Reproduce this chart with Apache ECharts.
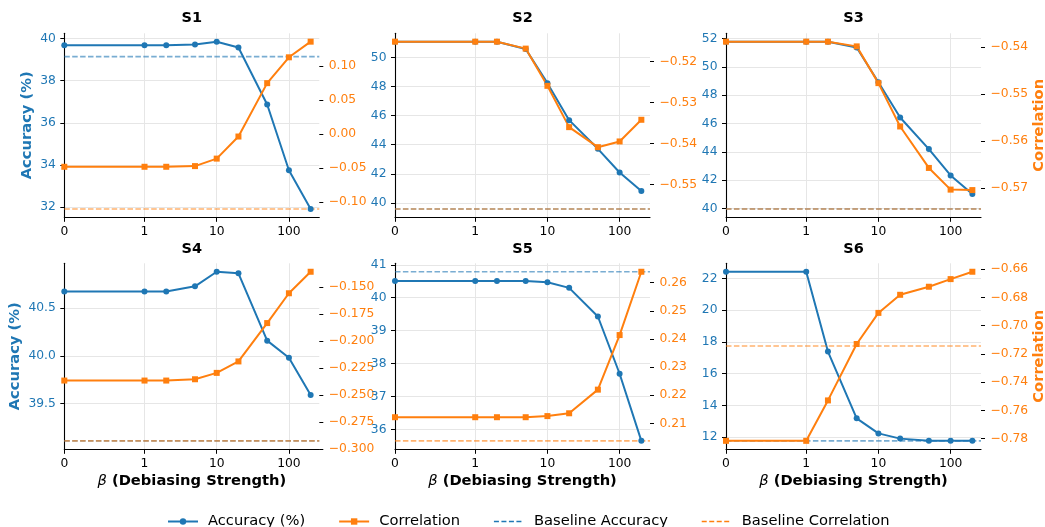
<!DOCTYPE html>
<html><head><meta charset="utf-8">
<script src="https://cdn.jsdelivr.net/npm/echarts@6/dist/echarts.min.js"></script>
<style>html,body{margin:0;padding:0;background:#fff}#c{width:1045px;height:527px}</style>
</head><body><div id="c"></div>
<script>
// ---------------- data ----------------
const betas = [0, 1, 2, 5, 10, 20, 50, 100, 200];
const xTickBetas = [0, 1, 10, 100];
const xTickLabels = ['0', '1', '10', '100'];
const panelNames = ['S1', 'S2', 'S3', 'S4', 'S5', 'S6'];

const accS1 = [39.69, 39.69, 39.69, 39.72, 39.86, 39.58, 36.87, 33.74, 31.90];
const corrS1 = [-0.048, -0.048, -0.048, -0.047, -0.036, -0.0035, 0.075, 0.113, 0.136];
const accS2 = [51.08, 51.08, 51.08, 50.58, 48.23, 45.69, 43.72, 42.09, 40.82];
const corrS2 = [-0.5151, -0.5151, -0.5151, -0.5168, -0.5259, -0.5360, -0.5409, -0.5395, -0.5342];
const accS3 = [51.78, 51.78, 51.78, 51.37, 48.92, 46.43, 44.20, 42.34, 41.03];
const corrS3 = [-0.5389, -0.5389, -0.5389, -0.5399, -0.5477, -0.5569, -0.5657, -0.5703, -0.5704];
const accS4 = [40.676, 40.676, 40.676, 40.73, 40.883, 40.866, 40.159, 39.98, 39.589];
const corrS4 = [-0.2367, -0.2367, -0.2367, -0.2355, -0.2296, -0.2190, -0.1835, -0.1559, -0.1360];
const accS5 = [40.51, 40.51, 40.51, 40.51, 40.47, 40.30, 39.43, 37.69, 35.65];
const corrS5 = [0.2122, 0.2122, 0.2122, 0.2122, 0.2126, 0.2136, 0.2220, 0.2414, 0.2639];
const accS6 = [22.42, 22.42, 17.39, 13.18, 12.23, 11.90, 11.77, 11.77, 11.77];
const corrS6 = [-0.7815, -0.7815, -0.7529, -0.7130, -0.6910, -0.6782, -0.6725, -0.6671, -0.6619];

const baseAcc = [39.15, 39.59, 39.98, 39.106, 40.79, 11.76];
const baseCorr = [-0.110, -0.556, -0.5744, -0.2925, 0.2038, -0.7144];

const accTicksS1 = [32, 34, 36, 38, 40];
const accTicksS2 = [40, 42, 44, 46, 48, 50];
const accTicksS3 = [40, 42, 44, 46, 48, 50, 52];
const accTicksS4 = [39.5, 40.0, 40.5];
const accTicksS5 = [36, 37, 38, 39, 40, 41];
const accTicksS6 = [12, 14, 16, 18, 20, 22];
const corrTicksS1 = [-0.10, -0.05, 0.00, 0.05, 0.10];
const corrTicksS2 = [-0.55, -0.54, -0.53, -0.52];
const corrTicksS3 = [-0.57, -0.56, -0.55, -0.54];
const corrTicksS4 = [-0.300, -0.275, -0.250, -0.225, -0.200, -0.175, -0.150];
const corrTicksS5 = [0.21, 0.22, 0.23, 0.24, 0.25, 0.26];
const corrTicksS6 = [-0.78, -0.76, -0.74, -0.72, -0.70, -0.68, -0.66];
const accDecimals = [0, 0, 0, 1, 0, 0];
const corrDecimals = [2, 2, 2, 3, 2, 2];

// ---------------- layout / style ----------------
const accList = [accS1, accS2, accS3, accS4, accS5, accS6];
const corrList = [corrS1, corrS2, corrS3, corrS4, corrS5, corrS6];
const accTickList = [accTicksS1, accTicksS2, accTicksS3, accTicksS4, accTicksS5, accTicksS6];
const corrTickList = [corrTicksS1, corrTicksS2, corrTicksS3, corrTicksS4, corrTicksS5, corrTicksS6];

const BLUE = '#1f77b4', ORANGE = '#ff7f0e';
const FONT = 'DejaVu Sans';
const colLeft = [64.3, 395, 726];
const rowTop = [33.3, 263.3];
const rowH = [184, 186];
const gridW = 255;
const X_MAX = 3.532;
const accNameGap = [30, 41.5];

function symlog(b) { return b <= 1 ? b / 0.9 : 1 / 0.9 + Math.log10(b); }
const xTickPos = xTickBetas.map(symlog);
function fmt(v, d) {
  if (Math.abs(v) < 1e-12) v = 0;
  return (v < 0 ? '\u2212' : '') + Math.abs(v).toFixed(d);
}
function range(arr) {
  const mn = Math.min(...arr), mx = Math.max(...arr);
  const m = (mx - mn) * 0.05;
  return [mn - m, mx + m];
}

const grids = [], xAxes = [], yAxes = [], series = [], titles = [];
for (let i = 0; i < 6; i++) {
  const r = Math.floor(i / 3), c = i % 3;
  grids.push({ left: colLeft[c], top: rowTop[r], width: gridW, height: rowH[r], outerBoundsMode: 'none', containLabel: false });
  titles.push({
    text: panelNames[i], left: colLeft[c] + gridW / 2, top: rowTop[r] - 23 + r * 1.5, textAlign: 'center', padding: 0,
    textStyle: { fontFamily: FONT, fontWeight: 'bold', fontSize: 14.5, color: '#000' }
  });
  const xa = {
    type: 'value', gridIndex: i, min: 0, max: X_MAX,
    axisLine: { show: true, onZero: false, lineStyle: { color: '#000', width: 1.1 } },
    axisTick: { show: true, length: 4.5, customValues: xTickPos, lineStyle: { color: '#000', width: 1 } },
    axisLabel: {
      show: true, margin: 8.5, customValues: xTickPos, fontFamily: FONT, fontSize: 12.3, color: '#000',
      formatter: v => { const k = xTickPos.findIndex(p => Math.abs(p - v) < 1e-6); return k >= 0 ? xTickLabels[k] : ''; }
    },
    splitLine: { show: true, customValues: xTickPos, lineStyle: { color: '#e6e6e6', width: 1 } }
  };
  if (r === 1) {
    xa.name = '{b|\u03b2} (Debiasing Strength)';
    xa.nameLocation = 'middle';
    xa.nameGap = 24;
    xa.nameMoveOverlap = false;
    xa.nameTextStyle = {
      fontFamily: FONT, fontWeight: 'bold', fontSize: 14.7, color: '#000',
      rich: { b: { fontFamily: FONT, fontStyle: 'italic', fontWeight: 'normal', fontSize: 14.7, color: '#000' } }
    };
  }
  xAxes.push(xa);

  const accR = range(accList[i].concat([baseAcc[i]]));
  const corrR = range(corrList[i].concat([baseCorr[i]]));
  const ad = accDecimals[i], cd = corrDecimals[i];
  const yl = {
    type: 'value', gridIndex: i, position: 'left', min: accR[0], max: accR[1],
    axisLine: { show: true, lineStyle: { color: '#000', width: 1.1 } },
    axisTick: { show: true, length: 4, customValues: accTickList[i], lineStyle: { color: '#000', width: 1 } },
    axisLabel: { show: true, margin: 8.5, customValues: accTickList[i], fontFamily: FONT, fontSize: 12.3, color: BLUE, formatter: v => fmt(v, ad) },
    splitLine: { show: true, customValues: accTickList[i], lineStyle: { color: '#e6e6e6', width: 1 } }
  };
  if (c === 0) {
    yl.name = 'Accuracy (%)'; yl.nameLocation = 'middle'; yl.nameGap = accNameGap[r]; yl.nameRotate = 90; yl.nameMoveOverlap = false;
    yl.nameTextStyle = { fontFamily: FONT, fontWeight: 'bold', fontSize: 14.7, color: BLUE };
  }
  const yr = {
    type: 'value', gridIndex: i, position: 'right', min: corrR[0], max: corrR[1],
    axisLine: { show: false },
    axisTick: { show: true, length: 4, customValues: corrTickList[i], lineStyle: { color: '#000', width: 1 } },
    axisLabel: { show: true, margin: 9.5, customValues: corrTickList[i], fontFamily: FONT, fontSize: 12.3, color: ORANGE, formatter: v => fmt(v, cd) },
    splitLine: { show: false }
  };
  if (c === 2) {
    yr.name = 'Correlation'; yr.nameLocation = 'middle'; yr.nameGap = 50.5; yr.nameRotate = 90; yr.nameMoveOverlap = false;
    yr.nameTextStyle = { fontFamily: FONT, fontWeight: 'bold', fontSize: 14.7, color: ORANGE };
  }
  yAxes.push(yl, yr);

  series.push({
    name: 'Accuracy (%)', type: 'line', xAxisIndex: i, yAxisIndex: 2 * i,
    data: betas.map((b, k) => [symlog(b), accList[i][k]]),
    symbol: 'circle', symbolSize: 6, color: BLUE,
    lineStyle: { color: BLUE, width: 2 }, itemStyle: { color: BLUE }
  });
  series.push({
    name: 'Baseline Accuracy', type: 'line', xAxisIndex: i, yAxisIndex: 2 * i,
    data: [[0, baseAcc[i]], [X_MAX, baseAcc[i]]], symbol: 'none', color: BLUE,
    lineStyle: { color: 'rgba(31,119,180,0.6)', width: 1.6, type: [5.5, 2.4] }
  });
  series.push({
    name: 'Correlation', type: 'line', xAxisIndex: i, yAxisIndex: 2 * i + 1,
    data: betas.map((b, k) => [symlog(b), corrList[i][k]]),
    symbol: 'rect', symbolSize: 6, color: ORANGE,
    lineStyle: { color: ORANGE, width: 2 }, itemStyle: { color: ORANGE }
  });
  series.push({
    name: 'Baseline Correlation', type: 'line', xAxisIndex: i, yAxisIndex: 2 * i + 1,
    data: [[0, baseCorr[i]], [X_MAX, baseCorr[i]]], symbol: 'none', color: ORANGE,
    lineStyle: { color: 'rgba(255,127,14,0.6)', width: 1.6, type: [5.5, 2.4] }
  });
}

const chart = echarts.init(document.getElementById('c'), null, { renderer: 'canvas' });
chart.setOption({
  animation: false,
  backgroundColor: '#fff',
  title: titles,
  grid: grids,
  xAxis: xAxes,
  yAxis: yAxes,
  series: series,
  legend: {
    data: [
      { name: 'Accuracy (%)' },
      { name: 'Correlation' },
      { name: 'Baseline Accuracy', itemStyle: { opacity: 0 }, lineStyle: { color: BLUE, type: [5, 2.5], width: 1.6 } },
      { name: 'Baseline Correlation', itemStyle: { opacity: 0 }, lineStyle: { color: ORANGE, type: [5, 2.5], width: 1.6 } }
    ],
    left: 167, top: 514, itemWidth: 30, itemHeight: 8, itemGap: 33, padding: 0,
    textStyle: { fontFamily: FONT, fontSize: 14.7, color: '#000', padding: [0, 0, 0, 5] }
  }
});
</script>
</body></html>
